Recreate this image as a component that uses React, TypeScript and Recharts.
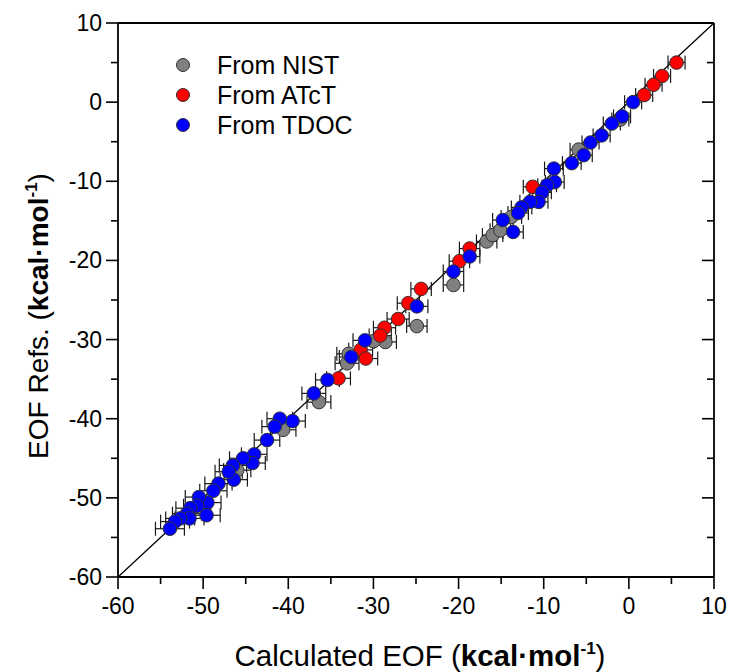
import React from "react";
import {
  ScatterChart,
  Scatter,
  XAxis,
  YAxis,
  ErrorBar,
  ReferenceLine,
  Label,
} from "recharts";

// calculated EOF vs reference EOF, kcal/mol
const nistCalc = [-20.6, -24.9, -28.6, -33.1, -16.7, -16.0, -15.1, -36.4, -40.6, -5.9, -1.0, -32.9, -30.0, -13.8, -46.0];
const nistRef = [-23.1, -28.3, -30.3, -33.0, -17.6, -16.8, -16.2, -37.9, -41.4, -6.0, -2.2, -31.8, -30.2, -14.5, -46.5];
const nistErr = [1.2, 1.2, 1.3, 1.4, 1.2, 1.2, 1.2, 1.4, 1.5, 1.0, 1.0, 1.4, 1.3, 1.2, 1.6];

const atctCalc = [5.6, 3.9, 2.9, 1.8, -11.3, -18.7, -19.9, -24.4, -25.9, -27.1, -28.7, -29.2, -31.5, -30.9, -34.1];
const atctRef = [5.0, 3.3, 2.2, 0.9, -10.7, -18.5, -20.1, -23.6, -25.4, -27.4, -28.5, -29.5, -31.3, -32.4, -34.9];
const atctErr = [1.0, 1.0, 1.0, 1.0, 1.1, 1.2, 1.2, 1.2, 1.3, 1.3, 1.3, 1.3, 1.4, 1.4, 1.4];

const tdocCalc = [
  0.5, -0.8, -2.0, -3.2, -4.5, -5.3, -6.7, -8.8, -8.7, -9.6, -10.2, -10.6, -11.6, -12.6,
  -13.0, -14.8, -13.6, -18.7, -20.6, -24.9, -31.0, -32.6, -35.4,
  -37.0, -39.5, -41.0, -41.6, -42.5, -44.0, -44.2, -45.3, -46.5, -46.4, -47.0, -48.2,
  -48.8, -49.5, -50.5, -50.7, -49.6, -51.5, -51.9, -51.6, -52.7, -53.3, -53.9,
];
const tdocRef = [
  0.0, -1.8, -2.7, -4.2, -5.1, -6.7, -7.7, -8.4, -10.1, -10.5, -11.4, -12.6, -12.6, -13.3,
  -14.0, -14.9, -16.4, -19.5, -21.4, -25.8, -30.1, -32.2, -35.1,
  -36.8, -40.3, -40.0, -41.0, -42.7, -44.5, -45.6, -45.0, -45.9, -47.7, -46.7, -48.2,
  -49.1, -50.6, -49.9, -51.0, -52.2, -51.3, -52.0, -52.6, -52.6, -53.0, -53.9,
];
const tdocErr = [
  1.0, 1.0, 1.0, 1.0, 1.0, 1.0, 1.1, 1.1, 1.1, 1.1, 1.1, 1.1, 1.2, 1.2,
  1.2, 1.2, 1.2, 1.2, 1.2, 1.3, 1.4, 1.4, 1.4,
  1.4, 1.5, 1.5, 1.5, 1.5, 1.5, 1.5, 1.6, 1.6, 1.6, 1.6, 1.6,
  1.6, 1.6, 1.6, 1.6, 1.6, 1.7, 1.7, 1.7, 1.7, 1.7, 1.7,
];

const axisTicks = [-60, -55, -50, -45, -40, -35, -30, -25, -20, -15, -10, -5, 0, 5, 10];
const axisDomain = [-60, 10];

const seriesNames = ["From NIST", "From ATcT", "From TDOC"];
const seriesColors = ["#808080", "#ff0000", "#0000ff"];

const FONT = "'Liberation Sans', Arial, sans-serif";

const toPoints = (xs: number[], ys: number[], es: number[]) =>
  xs.map((x, i) => ({ x, y: ys[i], ex: es[i] }));

const series = [
  toPoints(nistCalc, nistRef, nistErr),
  toPoints(atctCalc, atctRef, atctErr),
  toPoints(tdocCalc, tdocRef, tdocErr),
];

function makeTick(side: "bottom" | "left" | "top" | "right") {
  return (props: any) => {
    const { x, y, payload } = props;
    const v = payload.value;
    const major = v % 10 === 0;
    const len = major ? 12 : 7;
    const line = { stroke: "#000", strokeWidth: 1.6 };
    if (side === "bottom") {
      return (
        <g>
          <line x1={x} y1={y} x2={x} y2={y + len} {...line} />
          {major && (
            <text x={x} y={y + 37} textAnchor="middle" fontSize={23} fontFamily={FONT} fill="#000">
              {String(v)}
            </text>
          )}
        </g>
      );
    }
    if (side === "left") {
      return (
        <g>
          <line x1={x} y1={y} x2={x - len} y2={y} {...line} />
          {major && (
            <text x={x - 16} y={y + 8} textAnchor="end" fontSize={23} fontFamily={FONT} fill="#000">
              {String(v)}
            </text>
          )}
        </g>
      );
    }
    if (side === "top") {
      return <line x1={x} y1={y} x2={x} y2={y + len} {...line} />;
    }
    return <line x1={x} y1={y} x2={x - len} y2={y} {...line} />;
  };
}

const XTitle = (props: any) => {
  const vb = props.viewBox;
  const cx = vb.x + vb.width / 2 + 4;
  return (
    <text x={cx} y={vb.y + 89} textAnchor="middle" fontSize={29.5} fontFamily={FONT} fill="#000">
      Calculated EOF (<tspan fontWeight="bold">kcal·mol</tspan>
      <tspan fontWeight="bold" fontSize={17} dy={-12}>-1</tspan>
      <tspan dy={12}>)</tspan>
    </text>
  );
};

const YTitle = () => {
  const cx = 48;
  const cy = 316;
  return (
    <text
      x={cx}
      y={cy}
      textAnchor="middle"
      fontSize={28}
      fontFamily={FONT}
      fill="#000"
      transform={`rotate(-90, ${cx}, ${cy})`}
    >
      EOF Refs. (<tspan fontWeight="bold">kcal·mol</tspan>
      <tspan fontWeight="bold" fontSize={17} dy={-11}>-1</tspan>
      <tspan dy={11}>)</tspan>
    </text>
  );
};

const dot = (color: string) => (p: any) =>
  <circle cx={p.cx} cy={p.cy} r={6.8} fill={color} stroke="#333" strokeWidth={1} />;

export default function App() {
  const axisLine = { stroke: "#000", strokeWidth: 1.8 };
  return (
    <div style={{ position: "absolute", left: 0, top: 0, width: 731, height: 672, background: "#fff" }}>
      <ScatterChart width={731} height={672} margin={{ top: 13, right: 7, bottom: 0, left: 0 }}>
        <XAxis
          type="number"
          dataKey="x"
          domain={axisDomain}
          ticks={axisTicks}
          allowDataOverflow
          height={95}
          tickSize={0}
          tickMargin={0}
          tickLine={false}
          axisLine={axisLine}
          tick={makeTick("bottom")}
          interval={0}
        >
          <Label content={XTitle} />
        </XAxis>
        <XAxis
          xAxisId="top"
          orientation="top"
          type="number"
          domain={axisDomain}
          ticks={axisTicks}
          allowDataOverflow
          height={10}
          tickSize={0}
          tickMargin={0}
          tickLine={false}
          axisLine={axisLine}
          tick={makeTick("top")}
          interval={0}
        />
        <YAxis
          type="number"
          dataKey="y"
          domain={axisDomain}
          ticks={axisTicks}
          allowDataOverflow
          width={118}
          tickSize={0}
          tickMargin={0}
          tickLine={false}
          axisLine={axisLine}
          tick={makeTick("left")}
          interval={0}
        >
          <Label content={YTitle} />
        </YAxis>
        <YAxis
          yAxisId="right"
          orientation="right"
          type="number"
          domain={axisDomain}
          ticks={axisTicks}
          allowDataOverflow
          width={10}
          tickSize={0}
          tickMargin={0}
          tickLine={false}
          axisLine={axisLine}
          tick={makeTick("right")}
          interval={0}
        />
        <ReferenceLine
          segment={[
            { x: axisDomain[0], y: axisDomain[0] },
            { x: axisDomain[1], y: axisDomain[1] },
          ]}
          stroke="#000"
          strokeWidth={1.3}
        />
        {series.map((data, i) => (
          <Scatter
            key={seriesNames[i]}
            name={seriesNames[i]}
            data={data}
            isAnimationActive={false}
            shape={dot(seriesColors[i])}
          >
            <ErrorBar dataKey="ex" direction="x" width={7} stroke="#1a1a1a" strokeWidth={1.2} isAnimationActive={false} />
          </Scatter>
        ))}
      </ScatterChart>
      {seriesNames.map((name, i) => (
        <div
          key={name}
          style={{
            position: "absolute",
            left: 176,
            top: 50 + i * 30,
            height: 30,
            display: "flex",
            alignItems: "center",
            fontFamily: FONT,
            fontSize: 25,
            color: "#000",
          }}
        >
          <div
            style={{
              width: 14,
              height: 14,
              borderRadius: "50%",
              background: seriesColors[i],
              border: "1px solid #333",
              boxSizing: "border-box",
              marginRight: 27,
            }}
          />
          <span>{name}</span>
        </div>
      ))}
    </div>
  );
}
